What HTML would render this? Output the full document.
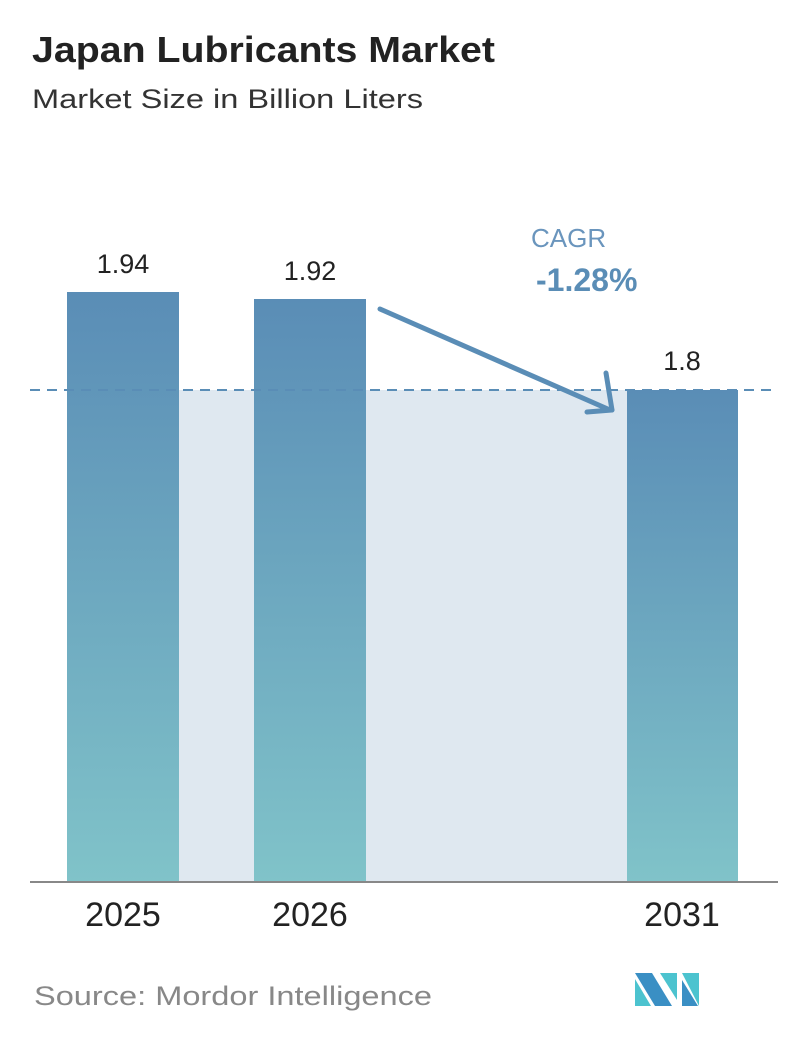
<!DOCTYPE html>
<html><head><style>
body{margin:0;background:#fff;width:796px;height:1034px;overflow:hidden;font-family:"Liberation Sans",sans-serif;}
</style></head><body>
<svg width="796" height="1034" xmlns="http://www.w3.org/2000/svg">
<defs>
<linearGradient id="g" x1="0" y1="0" x2="0" y2="1">
<stop offset="0" stop-color="#5a8db6"/><stop offset="1" stop-color="#80c3c9"/>
</linearGradient>
</defs>
<text x="32" y="62" font-size="36" font-weight="bold" fill="#222" textLength="463" lengthAdjust="spacingAndGlyphs">Japan Lubricants Market</text>
<text x="32" y="108" font-size="27" fill="#333" textLength="391" lengthAdjust="spacingAndGlyphs">Market Size in Billion Liters</text>
<rect x="179" y="390" width="448" height="492" fill="#dfe8f0"/>
<rect x="67" y="292" width="112" height="590" fill="url(#g)"/>
<rect x="254" y="299" width="112" height="583" fill="url(#g)"/>
<rect x="627" y="390" width="111" height="492" fill="url(#g)"/>
<line x1="30" y1="390" x2="778" y2="390" stroke="#5a8db6" stroke-width="2" stroke-dasharray="10,7"/>
<line x1="30" y1="882" x2="778" y2="882" stroke="#888" stroke-width="2"/>
<text x="123" y="273" font-size="27" text-anchor="middle" fill="#222">1.94</text>
<text x="310" y="280" font-size="27" text-anchor="middle" fill="#222">1.92</text>
<text x="682" y="370" font-size="27" text-anchor="middle" fill="#222">1.8</text>
<text x="123" y="926" font-size="34" text-anchor="middle" fill="#222">2025</text>
<text x="310" y="926" font-size="34" text-anchor="middle" fill="#222">2026</text>
<text x="682" y="926" font-size="34" text-anchor="middle" fill="#222">2031</text>
<text x="531" y="247" font-size="26" fill="#6a95bd">CAGR</text>
<text x="536" y="291" font-size="32" font-weight="bold" fill="#5a8db6">-1.28%</text>
<g stroke="#5a8db6" stroke-width="5" stroke-linecap="round" fill="none">
<line x1="380" y1="309" x2="610" y2="410"/>
<line x1="606" y1="373" x2="612" y2="410"/>
<line x1="587" y1="412" x2="612" y2="410"/>
</g>
<text x="34" y="1005" font-size="27" fill="#888" textLength="398" lengthAdjust="spacingAndGlyphs">Source: Mordor Intelligence</text>
<g>
<polygon points="635,973 652,973 672,1006 655,1006" fill="#3a8fc4"/>
<polygon points="635,979 635,1006 651,1006" fill="#4cc3cf"/>
<polygon points="660,973 677,973 677,1000" fill="#4cc3cf"/>
<polygon points="682,973 699,973 699,1006" fill="#4cc3cf"/>
<polygon points="682,980 682,1006 698,1006" fill="#3a8fc4"/>
</g>
</svg>
</body></html>
